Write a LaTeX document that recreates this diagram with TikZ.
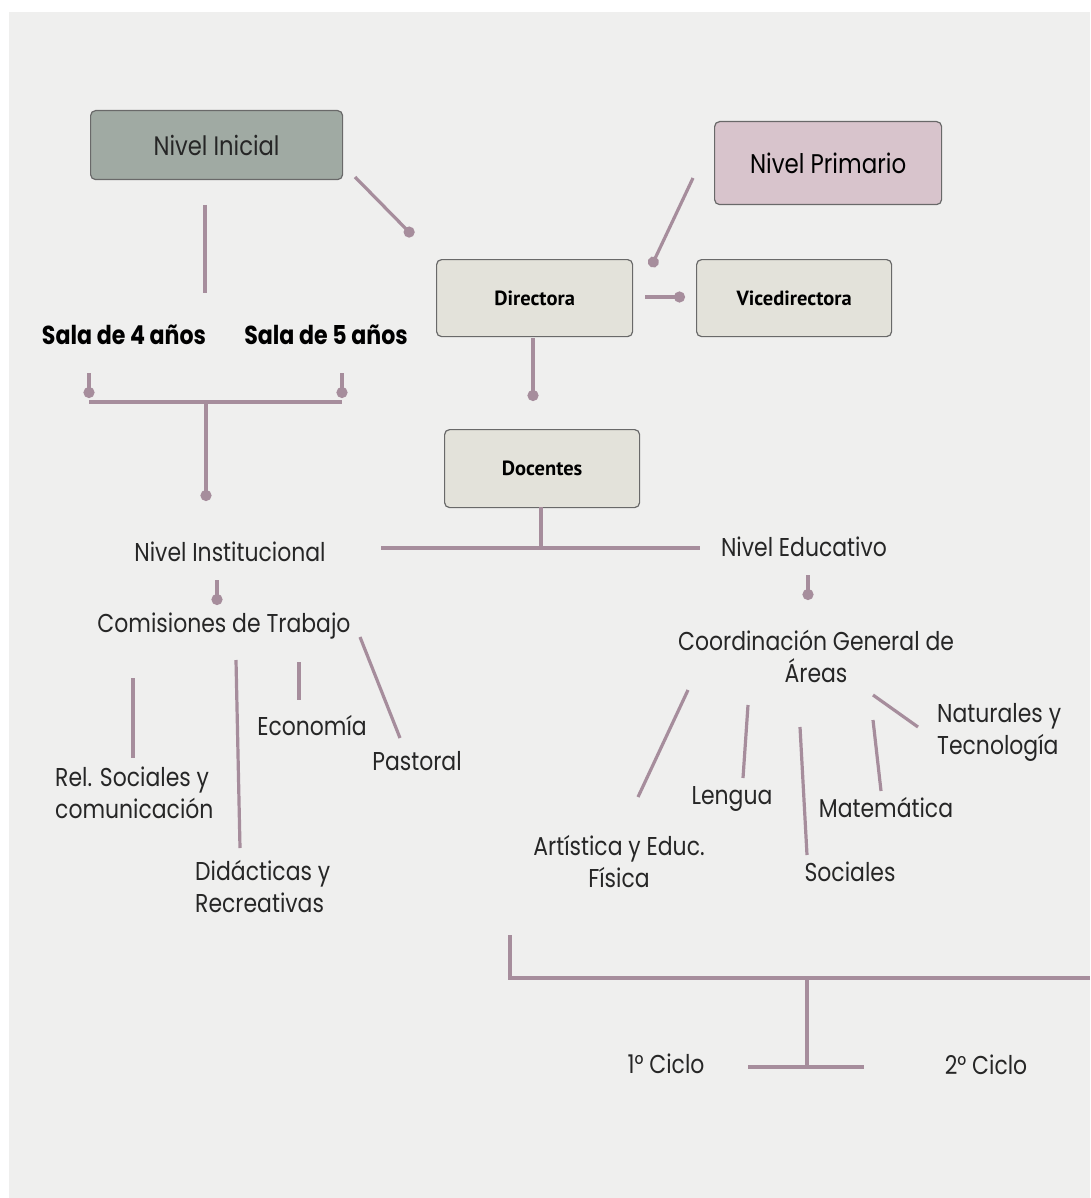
\documentclass[tikz,border=0pt]{standalone}
\usepackage{fontspec}
\setmainfont{Poppins}[FakeStretch=0.85]
\newfontfamily\boxfont{PT Sans}
\usetikzlibrary{arrows.meta}
\definecolor{bgc}{RGB}{239,239,238}
\definecolor{linec}{RGB}{166,141,156}
\definecolor{inic}{RGB}{160,170,163}
\definecolor{prim}{RGB}{216,196,204}
\definecolor{boxc}{RGB}{227,226,218}
\definecolor{bord}{RGB}{105,105,105}
\tikzset{
  conn/.style={draw=linec, line width=3.2pt, line cap=butt},
  dotted end/.style={conn, -{Circle[length=11pt,width=11pt]}},
  lvlbox/.style={draw=bord, line width=1.2pt, rounded corners=5pt, anchor=north west, inner sep=0pt},
  smallbox/.style={lvlbox, fill=boxc},
  boxtext/.style={font=\boxfont\bfseries\fontsize{20.5}{24}\selectfont, text=black},
  lbl/.style={font=\fontsize{25.8}{32}\selectfont, inner sep=0pt, text=black!85},
  lbl2/.style={lbl, align=center},
  lbll/.style={lbl, align=left, anchor=west},
  bold lbl/.style={font=\bfseries\fontsize{26}{30}\selectfont, inner sep=0pt, text=black},
}
\begin{document}
\begin{tikzpicture}[x=1pt,y=-1pt]
\useasboundingbox (0,0) rectangle (1090,1198);
\fill[white] (0,0) rectangle (1090,1198);
\fill[bgc] (9,12) rectangle (1090,1198);

% boxes
\node[lvlbox, fill=inic, minimum width=252pt, minimum height=69pt] (ni) at (90,110) {};
\node[font=\fontsize{26.7}{30}\selectfont, text=black!85] (nit) at (ni.center) {Nivel Inicial};
\node[lvlbox, fill=prim, minimum width=227pt, minimum height=83pt] (np) at (714,121) {};
\node[font=\fontsize{27}{32}\selectfont, text=black] (npt) at (np.center) {Nivel Primario};
\node[smallbox, minimum width=196pt, minimum height=77pt] (dir) at (436,259) {};
\node[boxtext] (dirt) at (dir.center) {Directora};
\node[smallbox, minimum width=195pt, minimum height=77pt] (vice) at (696,259) {};
\node[boxtext] (vicet) at (vice.center) {Vicedirectora};
\node[smallbox, minimum width=195pt, minimum height=78pt] (doc) at (444,429) {};
\node[boxtext] (doct) at (doc.center) {Docentes};

% labels
\node[bold lbl] (s4) at (124,335) {Sala de 4 años};
\node[bold lbl] (s5) at (326,335) {Sala de 5 años};
\node[lbl] (ninst) at (230,552) {Nivel Institucional};
\node[lbl] (nedu) at (804,547) {Nivel Educativo};
\node[lbl] (com) at (224,626) {Comisiones de Trabajo};
\node[lbll] (rel) at (55,793) {Rel. Sociales y\\comunicación};
\node[lbll] (did) at (195,887) {Didácticas y\\Recreativas};
\node[lbl] (eco) at (312,726) {Economía};
\node[lbl] (pas) at (417,761) {Pastoral};
\node[lbl2] (coord) at (816,656) {Coordinación General de\\Áreas};
\node[lbl2] (art) at (619,862) {Artística y Educ.\\Física};
\node[lbl] (len) at (732,799) {Lengua};
\node[lbl] (soc) at (850,872) {Sociales};
\node[lbl] (mat) at (886,808) {Matemática};
\node[lbll] (nat) at (937,732) {Naturales y\\Tecnología};
\node[lbl] (c1) at (666,1064) {1° Ciclo};
\node[lbl] (c2) at (986,1065) {2° Ciclo};

% connector coordinates
\coordinate (ni-a) at (355,177); \coordinate (ni-b) at (413,236);
\coordinate (np-a) at (693,178); \coordinate (np-b) at (651,267);
\coordinate (dv-a) at (645,297); \coordinate (dv-b) at (685,297);
\coordinate (dd-a) at (533,338); \coordinate (dd-b) at (533,401);
\coordinate (niv-a) at (205,205); \coordinate (niv-b) at (205,293);
\coordinate (b4-a) at (89,373); \coordinate (b4-b) at (89,398);
\coordinate (b5-a) at (342,373); \coordinate (b5-b) at (342,398);
\coordinate (bl) at (89,402); \coordinate (br) at (342,402);
\coordinate (bm) at (206,402); \coordinate (bm-b) at (206,501);
\coordinate (dc-a) at (541,507); \coordinate (dc-b) at (541,548);
\coordinate (hl) at (381,548); \coordinate (hr) at (700,548);
\coordinate (in-a) at (217,580); \coordinate (in-b) at (217,605);
\coordinate (ne-a) at (808,575); \coordinate (ne-b) at (808,600);
\coordinate (rel-a) at (133,678); \coordinate (rel-b) at (133,758);
\coordinate (did-a) at (236,660); \coordinate (did-b) at (240,848);
\coordinate (eco-a) at (299,662); \coordinate (eco-b) at (299,700);
\coordinate (pas-a) at (360,637); \coordinate (pas-b) at (400,738);
\coordinate (art-a) at (688,690); \coordinate (art-b) at (638,797);
\coordinate (len-a) at (748,705); \coordinate (len-b) at (743,778);
\coordinate (soc-a) at (800,727); \coordinate (soc-b) at (807,855);
\coordinate (mat-a) at (873,720); \coordinate (mat-b) at (881,791);
\coordinate (nat-a) at (873,695); \coordinate (nat-b) at (918,727);
\coordinate (cy-a) at (510,935); \coordinate (cy-b) at (510,978);
\coordinate (cy-r) at (1090,978); \coordinate (cy-m) at (807,978);
\coordinate (cy-d) at (807,1067); \coordinate (cy-l) at (748,1067);
\coordinate (cy-rr) at (864,1067);

% connectors
\draw[dotted end] (ni-a) -- (ni-b);
\draw[dotted end] (np-a) -- (np-b);
\draw[dotted end] (dv-a) -- (dv-b);
\draw[dotted end] (dd-a) -- (dd-b);
\draw[conn] (niv-a) -- (niv-b);
\draw[dotted end] (b4-a) -- (b4-b);
\draw[dotted end] (b5-a) -- (b5-b);
\draw[conn] (bl) -- (br);
\draw[dotted end] (bm) -- (bm-b);
\draw[conn] (dc-a) -- (dc-b);
\draw[conn] (hl) -- (hr);
\draw[dotted end] (in-a) -- (in-b);
\draw[dotted end] (ne-a) -- (ne-b);
\draw[conn] (rel-a) -- (rel-b);
\draw[conn] (did-a) -- (did-b);
\draw[conn] (eco-a) -- (eco-b);
\draw[conn] (pas-a) -- (pas-b);
\draw[conn] (art-a) -- (art-b);
\draw[conn] (len-a) -- (len-b);
\draw[conn] (soc-a) -- (soc-b);
\draw[conn] (mat-a) -- (mat-b);
\draw[conn] (nat-a) -- (nat-b);
\draw[conn] (cy-a) -- (cy-b) -- (cy-r);
\draw[conn] (cy-m) -- (cy-d);
\draw[conn] (cy-l) -- (cy-rr);
\end{tikzpicture}
\end{document}
